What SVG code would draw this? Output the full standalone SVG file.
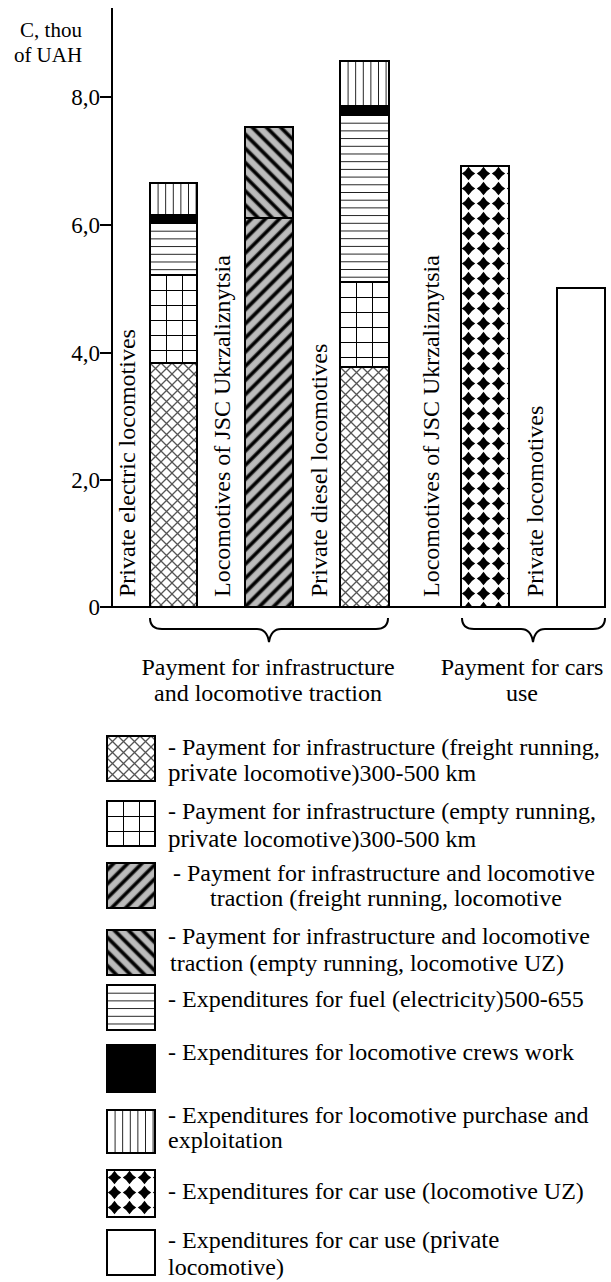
<svg xmlns="http://www.w3.org/2000/svg" width="611" height="1282" viewBox="0 0 611 1282">
<style>
.t{font-family:"Liberation Serif","Times New Roman",serif;font-size:24px;fill:#000}
.ax{font-family:"Liberation Serif","Times New Roman",serif;font-size:21px;fill:#000}
.tk{font-family:"Liberation Serif","Times New Roman",serif;font-size:23px;fill:#000}
.pv{font-size:25px}
.seg{stroke:#000;stroke-width:2}
.ln{stroke:#000;stroke-width:2;fill:none}
</style>
<defs>
<pattern id="cross" patternUnits="userSpaceOnUse" width="11" height="11">
<rect width="11" height="11" fill="#fff"/>
<path d="M0,0L11,11M11,0L0,11" stroke="#555" stroke-width="1.3"/>
</pattern>
<pattern id="grid" patternUnits="userSpaceOnUse" width="16" height="15">
<rect width="16" height="15" fill="#fff"/>
<path d="M0,0V15M0,0H16" stroke="#000" stroke-width="2" fill="none"/>
</pattern>
<pattern id="hor" patternUnits="userSpaceOnUse" width="8" height="7.7">
<rect width="8" height="7.7" fill="#fff"/>
<path d="M0,0H8" stroke="#000" stroke-width="1.7"/>
</pattern>
<pattern id="ver" patternUnits="userSpaceOnUse" width="7.6" height="8">
<rect width="7.6" height="8" fill="#fff"/>
<path d="M0,0V8" stroke="#000" stroke-width="1.7"/>
</pattern>
<pattern id="fwd" patternUnits="userSpaceOnUse" width="10" height="10" patternTransform="rotate(45)">
<rect width="10" height="10" fill="#bcbcbc"/>
<path d="M5,0V10" stroke="#555" stroke-width="4.4"/>
<path d="M5,0V10" stroke="#000" stroke-width="2.8"/>
</pattern>
<pattern id="bck" patternUnits="userSpaceOnUse" width="10" height="10" patternTransform="rotate(-45)">
<rect width="10" height="10" fill="#bcbcbc"/>
<path d="M5,0V10" stroke="#555" stroke-width="4.4"/>
<path d="M5,0V10" stroke="#000" stroke-width="2.8"/>
</pattern>
<pattern id="chk" patternUnits="userSpaceOnUse" width="15" height="15">
<rect width="15" height="15" fill="#fff"/>
<path d="M7.5,0.8Q10,5 14.2,7.5Q10,10 7.5,14.2Q5,10 0.8,7.5Q5,5 7.5,0.8Z" fill="#000"/>
</pattern>
</defs>

<g id="axes">
<path class="ln" d="M112,8V608"/>
<path class="ln" d="M100,607H605"/>
<path class="ln" d="M100,97H112M100,225H112M100,353H112M100,480H112"/>
<text class="tk" x="100" y="105" text-anchor="end">8,0</text>
<text class="tk" x="100" y="233" text-anchor="end">6,0</text>
<text class="tk" x="100" y="361" text-anchor="end">4,0</text>
<text class="tk" x="100" y="488" text-anchor="end">2,0</text>
<text class="tk" x="100" y="615" text-anchor="end">0</text>
<text class="ax" x="51" y="37" text-anchor="middle">C, thou</text>
<text class="ax" x="48" y="62" text-anchor="middle">of UAH</text>
</g>

<g id="bar1">
<g transform="translate(150,183)"><rect class="seg" width="47" height="32" fill="url(#ver)"/></g>
<rect class="seg" x="150" y="215" width="47" height="8" fill="#000"/>
<g transform="translate(150,223)"><rect class="seg" width="47" height="52" fill="url(#hor)"/></g>
<g transform="translate(150,275)"><rect class="seg" width="47" height="88" fill="url(#grid)"/></g>
<g transform="translate(150,363)"><rect class="seg" width="47" height="244" fill="url(#cross)"/></g>
</g>

<g id="bar2">
<g transform="translate(245,127)"><rect class="seg" width="48" height="91" fill="url(#bck)"/></g>
<g transform="translate(245,218)"><rect class="seg" width="48" height="389" fill="url(#fwd)"/></g>
</g>

<g id="bar3">
<g transform="translate(340,61)"><rect class="seg" width="49" height="45" fill="url(#ver)"/></g>
<rect class="seg" x="340" y="106" width="49" height="9" fill="#000"/>
<g transform="translate(340,115)"><rect class="seg" width="49" height="167" fill="url(#hor)"/></g>
<g transform="translate(340,282)"><rect class="seg" width="49" height="85" fill="url(#grid)"/></g>
<g transform="translate(340,367)"><rect class="seg" width="49" height="240" fill="url(#cross)"/></g>
</g>

<g id="bar4">
<g transform="translate(461,166)"><rect class="seg" width="48" height="441" fill="url(#chk)"/></g>
</g>

<g id="bar5">
<rect class="seg" x="557" y="288" width="48" height="319" fill="#fff"/>
</g>

<g id="bar-labels">
<text class="t" transform="translate(135,597) rotate(-90)">Private electric locomotives</text>
<text class="t" transform="translate(230,597) rotate(-90)">Locomotives of JSC Ukrzaliznytsia</text>
<text class="t" transform="translate(327,597) rotate(-90)">Private diesel locomotives</text>
<text class="t" transform="translate(439,597) rotate(-90)">Locomotives of JSC Ukrzaliznytsia</text>
<text class="t" transform="translate(543,597) rotate(-90)">Private locomotives</text>
</g>

<g id="connectors">
<path class="ln" d="M150,618Q150,629 162,629L257,629Q267,629 269,642Q271,629 281,629L376,629Q388,629 388,618"/>
<path class="ln" d="M462,618Q462,629 474,629L521,629Q531,629 533,642Q535,629 545,629L593,629Q605,629 605,618"/>
</g>

<g id="group-labels">
<text class="t" x="268" y="675" text-anchor="middle">Payment for infrastructure</text>
<text class="t" x="268" y="701" text-anchor="middle">and locomotive traction</text>
<text class="t" x="522" y="675" text-anchor="middle">Payment for cars</text>
<text class="t" x="522" y="701" text-anchor="middle">use</text>
</g>

<g id="legend1">
<g transform="translate(107,736)"><rect class="seg" width="48" height="45" fill="url(#cross)"/></g>
<text class="t" x="168" y="755">- Payment for infrastructure (freight running,</text>
<text class="t" x="168" y="781"><tspan class="pv">private</tspan> locomotive)300-500 km</text>
</g>
<g id="legend2">
<g transform="translate(107,801)"><rect class="seg" width="48" height="45" fill="url(#grid)"/></g>
<text class="t" x="168" y="819">- Payment for infrastructure (empty running,</text>
<text class="t" x="168" y="847"><tspan class="pv">private</tspan> locomotive)300-500 km</text>
</g>
<g id="legend3">
<g transform="translate(107,863)"><rect class="seg" width="48" height="45" fill="url(#fwd)"/></g>
<text class="t" x="173" y="881">- Payment for infrastructure and locomotive</text>
<text class="t" x="210" y="906">traction (freight running, locomotive</text>
</g>
<g id="legend4">
<g transform="translate(107,930)"><rect class="seg" width="48" height="45" fill="url(#bck)"/></g>
<text class="t" x="168" y="944">- Payment for infrastructure and locomotive</text>
<text class="t" x="170" y="971">traction (empty running, locomotive UZ)</text>
</g>
<g id="legend5">
<g transform="translate(107,985)"><rect class="seg" width="48" height="45" fill="url(#hor)"/></g>
<text class="t" x="168" y="1007">- Expenditures for fuel (electricity)500-655</text>
</g>
<g id="legend6">
<rect class="seg" x="107" y="1045" width="48" height="47" fill="#000"/>
<text class="t" x="168" y="1060">- Expenditures for locomotive crews work</text>
</g>
<g id="legend7">
<g transform="translate(107,1110)"><rect class="seg" width="48" height="43" fill="url(#ver)"/></g>
<text class="t" x="168" y="1123">- Expenditures for locomotive purchase and</text>
<text class="t" x="168" y="1148">exploitation</text>
</g>
<g id="legend8">
<g transform="translate(107,1170)"><rect class="seg" width="48" height="47" fill="url(#chk)"/></g>
<text class="t" x="168" y="1199">- Expenditures for car use (locomotive UZ)</text>
</g>
<g id="legend9">
<rect class="seg" x="107" y="1230" width="48" height="45" fill="#fff"/>
<text class="t" x="168" y="1248">- Expenditures for car use (<tspan class="pv">private</tspan></text>
<text class="t" x="168" y="1275">locomotive)</text>
</g>
</svg>
